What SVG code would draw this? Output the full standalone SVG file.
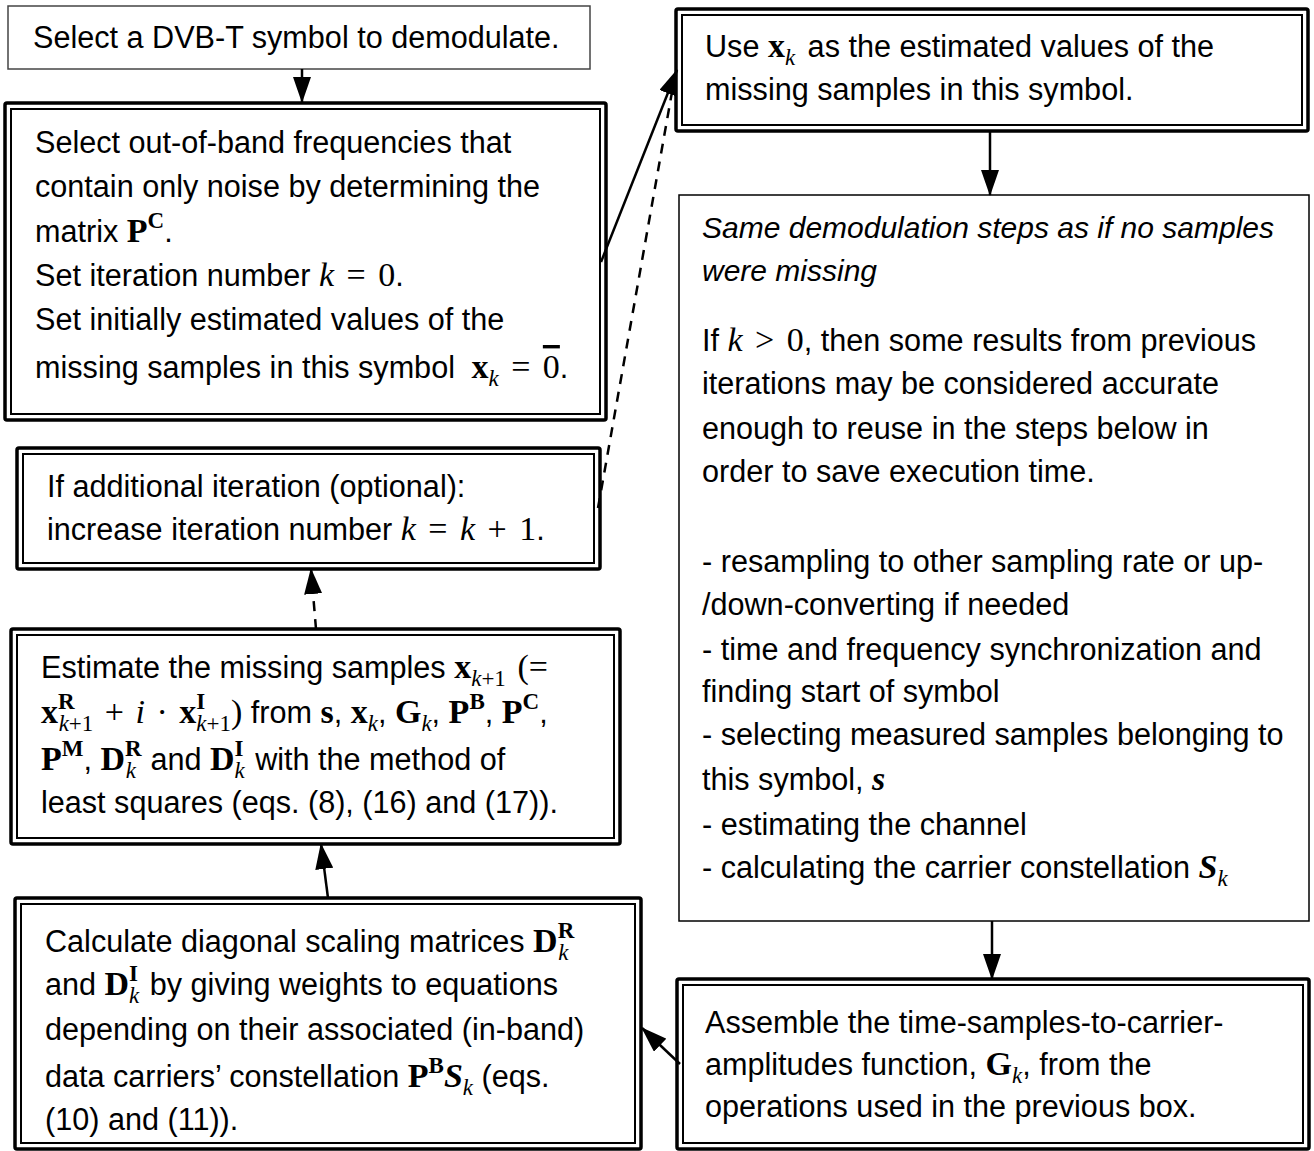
<svg xmlns="http://www.w3.org/2000/svg" width="1314" height="1151" viewBox="0 0 1314 1151">
<style>
.bg{fill:#fff}
.single{fill:#fff;stroke:#000;stroke-width:1.5}
.outer{fill:#fff;stroke:#000;stroke-width:3.5}
.inner{fill:none;stroke:#000;stroke-width:2}
.t{font-family:"Liberation Sans",Arial,sans-serif;font-size:30.6px;fill:#000}
.it{font-style:italic;font-size:30px}
.mb{font-family:"Liberation Serif","Times New Roman",serif;font-size:34px;font-weight:bold;font-style:normal}
.mi{font-family:"Liberation Serif","Times New Roman",serif;font-size:34px;font-style:italic;font-weight:normal}
.mr{font-family:"Liberation Serif","Times New Roman",serif;font-size:34px;font-style:normal;font-weight:normal}
.mbi{font-family:"Liberation Serif","Times New Roman",serif;font-size:34px;font-weight:bold;font-style:italic}
.s{font-size:23px}
.c{fill:none;stroke:#000;stroke-width:2.5}
.d{stroke-dasharray:10 8}
</style>
<defs>
<marker id="ah" markerUnits="userSpaceOnUse" markerWidth="26" markerHeight="18" refX="25" refY="9" orient="auto">
<path d="M0,0 L26,9 L0,18 z" fill="#000"/>
</marker>
</defs>
<rect class="bg" x="0" y="0" width="1314" height="1151"/>

<g id="n1">
<rect class="single" x="8" y="6" width="582" height="63" style="stroke:#444"/>
<text class="t" x="33" y="48">Select a DVB-T symbol to demodulate.</text>
</g>

<g id="n2">
<rect class="outer" x="5" y="103" width="601" height="317" rx="2"/>
<rect class="inner" x="11" y="109" width="589" height="305"/>
<text class="t" x="35" y="153">Select out-of-band frequencies that</text>
<text class="t" x="35" y="197">contain only noise by determining the</text>
<text class="t" x="35" y="242">matrix <tspan class="mb">P</tspan><tspan class="mb s" dy="-14">C</tspan><tspan dy="14">.</tspan></text>
<text class="t" x="35" y="286">Set iteration number <tspan class="mi">k</tspan><tspan class="mr" dx="4"> =</tspan><tspan class="mr" dx="4"> 0</tspan>.</text>
<text class="t" x="35" y="330">Set initially estimated values of the</text>
<text class="t" x="35" y="378">missing samples in this symbol <tspan class="mb" dx="8">x</tspan><tspan class="mi s" dy="8">k</tspan><tspan class="mr" dy="-8" dx="4"> =</tspan><tspan class="mr" dx="4"> </tspan><tspan class="mr" text-decoration="overline">0</tspan>.</text>
</g>

<g id="n3">
<rect class="outer" x="676" y="9" width="632" height="122" rx="2"/>
<rect class="inner" x="682" y="15" width="620" height="110"/>
<text class="t" x="705" y="57">Use <tspan class="mb">x</tspan><tspan class="mi s" dy="8">k</tspan><tspan dy="-8" dx="4"> as the estimated values of the</tspan></text>
<text class="t" x="705" y="100">missing samples in this symbol.</text>
</g>

<g id="n4">
<rect class="single" x="679" y="195" width="630" height="726"/>
<text class="t it" x="702" y="238">Same demodulation steps as if no samples</text>
<text class="t it" x="702" y="281">were missing</text>
<text class="t" x="702" y="351">If <tspan class="mi">k</tspan><tspan class="mr" dx="4"> &gt;</tspan><tspan class="mr" dx="4"> 0</tspan>, then some results from previous</text>
<text class="t" x="702" y="394">iterations may be considered accurate</text>
<text class="t" x="702" y="439">enough to reuse in the steps below in</text>
<text class="t" x="702" y="482">order to save execution time.</text>
<text class="t" x="702" y="572">- resampling to other sampling rate or up-</text>
<text class="t" x="702" y="615">/down-converting if needed</text>
<text class="t" x="702" y="660">- time and frequency synchronization and</text>
<text class="t" x="702" y="702">finding start of symbol</text>
<text class="t" x="702" y="745">- selecting measured samples belonging to</text>
<text class="t" x="702" y="790">this symbol, <tspan class="mbi">s</tspan></text>
<text class="t" x="702" y="835">- estimating the channel</text>
<text class="t" x="702" y="878">- calculating the carrier constellation <tspan class="mbi">S</tspan><tspan class="mi s" dy="8">k</tspan></text>
</g>

<g id="n5">
<rect class="outer" x="677" y="979" width="632" height="170" rx="2"/>
<rect class="inner" x="683" y="985" width="620" height="158"/>
<text class="t" x="705" y="1033">Assemble the time-samples-to-carrier-</text>
<text class="t" x="705" y="1075">amplitudes function, <tspan class="mb">G</tspan><tspan class="mi s" dy="8">k</tspan><tspan dy="-8">, from the</tspan></text>
<text class="t" x="705" y="1117">operations used in the previous box.</text>
</g>

<g id="n6">
<rect class="outer" x="15" y="898" width="626" height="251" rx="2"/>
<rect class="inner" x="21" y="904" width="614" height="239"/>
<text class="t" x="45" y="952">Calculate diagonal scaling matrices <tspan class="mb">D</tspan><tspan class="mb s" dy="-14">R</tspan><tspan class="mi s" dx="-16" dy="22">k</tspan></text>
<text class="t" x="45" y="995">and <tspan class="mb">D</tspan><tspan class="mb s" dy="-14">I</tspan><tspan class="mi s" dx="-9" dy="22">k</tspan><tspan dy="-8" dx="2"> by giving weights to equations</tspan></text>
<text class="t" x="45" y="1040">depending on their associated (in-band)</text>
<text class="t" x="45" y="1087">data carriers’ constellation <tspan class="mb">P</tspan><tspan class="mb s" dy="-14">B</tspan><tspan class="mbi" dy="14">S</tspan><tspan class="mi s" dy="8">k</tspan><tspan dy="-8"> (eqs.</tspan></text>
<text class="t" x="45" y="1130">(10) and (11)).</text>
</g>

<g id="n7">
<rect class="outer" x="11" y="629" width="609" height="215" rx="2"/>
<rect class="inner" x="17" y="635" width="597" height="203"/>
<text class="t" x="41" y="678">Estimate the missing samples <tspan class="mb">x</tspan><tspan class="mi s" dy="8">k</tspan><tspan class="mr s">+1</tspan><tspan class="mr" dy="-8" dx="3"> (=</tspan></text>
<text class="t" x="41" y="723"><tspan class="mb">x</tspan><tspan class="mb s" dy="-14">R</tspan><tspan class="mi s" dx="-16" dy="22">k</tspan><tspan class="mr s">+1</tspan><tspan class="mr" dy="-8" dx="3"> +</tspan><tspan class="mi" dx="3"> i</tspan><tspan class="mr" dx="3"> ·</tspan><tspan class="mb" dx="3"> x</tspan><tspan class="mb s" dy="-14">I</tspan><tspan class="mi s" dx="-9" dy="22">k</tspan><tspan class="mr s">+1</tspan><tspan class="mr" dy="-8">)</tspan> from <tspan class="mb">s</tspan>, <tspan class="mb">x</tspan><tspan class="mi s" dy="8">k</tspan><tspan dy="-8">, </tspan><tspan class="mb">G</tspan><tspan class="mi s" dy="8">k</tspan><tspan dy="-8">, </tspan><tspan class="mb">P</tspan><tspan class="mb s" dy="-14">B</tspan><tspan dy="14">, </tspan><tspan class="mb">P</tspan><tspan class="mb s" dy="-14">C</tspan><tspan dy="14">,</tspan></text>
<text class="t" x="41" y="770"><tspan class="mb">P</tspan><tspan class="mb s" dy="-14">M</tspan><tspan dy="14">, </tspan><tspan class="mb">D</tspan><tspan class="mb s" dy="-14">R</tspan><tspan class="mi s" dx="-16" dy="22">k</tspan><tspan dy="-8" dx="6"> and </tspan><tspan class="mb">D</tspan><tspan class="mb s" dy="-14">I</tspan><tspan class="mi s" dx="-9" dy="22">k</tspan><tspan dy="-8" dx="2"> with the method of</tspan></text>
<text class="t" x="41" y="813">least squares (eqs. (8), (16) and (17)).</text>
</g>

<g id="n8">
<rect class="outer" x="17" y="448" width="583" height="121" rx="2"/>
<rect class="inner" x="23" y="454" width="571" height="109"/>
<text class="t" x="47" y="497">If additional iteration (optional):</text>
<text class="t" x="47" y="540">increase iteration number <tspan class="mi">k</tspan><tspan class="mr" dx="4"> =</tspan><tspan class="mi" dx="4"> k</tspan><tspan class="mr" dx="4"> +</tspan><tspan class="mr" dx="4"> 1</tspan>.</text>
</g>

<g id="connectors">
<line class="c" x1="302" y1="69" x2="302" y2="102" marker-end="url(#ah)"/>
<line class="c d" x1="598" y1="508" x2="672" y2="92"/>
<line class="c" x1="601" y1="262" x2="677" y2="70" marker-end="url(#ah)"/>
<line class="c" x1="990" y1="131" x2="990" y2="195" marker-end="url(#ah)"/>
<line class="c" x1="992" y1="921" x2="992" y2="979" marker-end="url(#ah)"/>
<line class="c" x1="680" y1="1064" x2="642" y2="1028" marker-end="url(#ah)"/>
<line class="c" x1="328" y1="898" x2="321" y2="844" marker-end="url(#ah)"/>
<line class="c d" x1="316" y1="629" x2="311" y2="569" marker-end="url(#ah)"/>
</g>
</svg>
